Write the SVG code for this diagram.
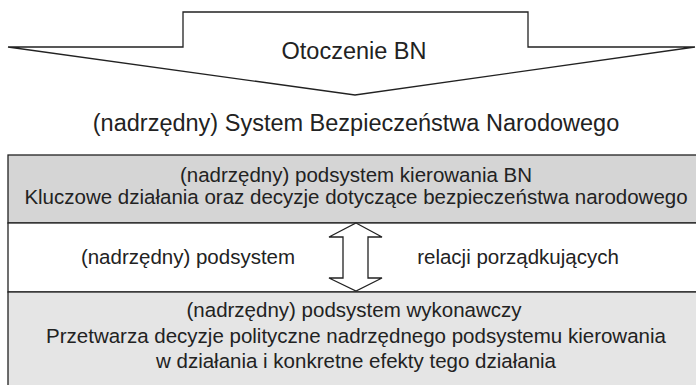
<svg xmlns="http://www.w3.org/2000/svg" width="696" height="385" viewBox="0 0 696 385">
<style>
.ln{stroke:#222;stroke-width:1.3;stroke-linejoin:miter}
.t{font-family:"Liberation Sans",Arial,sans-serif;fill:#222;text-anchor:middle}
.big{font-size:23.5px}
.box{font-size:20.5px}
</style>
<rect width="696" height="385" fill="#fff"/>
<g id="otoczenie">
<polygon class="ln" fill="#fff" points="8,47 183,47 183,12 528,12 528,47 695,47 355,95"/>
<text class="t big" x="354" y="59">Otoczenie BN</text>
</g>
<g id="system">
<text class="t big" x="356" y="131">(nadrzędny) System Bezpieczeństwa Narodowego</text>
</g>
<g id="kierowania">
<rect class="ln" x="8" y="155" width="700" height="68" fill="#d5d5d5"/>
<text class="t box" x="356" y="182">(nadrzędny) podsystem kierowania BN</text>
<text class="t box" x="356" y="204">Kluczowe działania oraz decyzje dotyczące bezpieczeństwa narodowego</text>
</g>
<g id="relacji">
<rect class="ln" x="8" y="223" width="700" height="69" fill="#fff"/>
<text class="t box" x="188" y="264">(nadrzędny) podsystem</text>
<text class="t box" x="518" y="264">relacji porządkujących</text>
</g>
<g id="wykonawczy">
<rect class="ln" x="8" y="292" width="700" height="100" fill="#e5e5e5"/>
<text class="t box" x="354" y="317">(nadrzędny) podsystem wykonawczy</text>
<text class="t box" x="356" y="343">Przetwarza decyzje polityczne nadrzędnego podsystemu kierowania</text>
<text class="t box" x="356" y="368">w działania i konkretne efekty tego działania</text>
</g>
<g id="connectors">
<polygon class="ln" fill="#fff" points="356,223 382,237 368,237 368,278 382,278 356,291 329,278 343,278 343,237 329,237"/>
</g>
</svg>
